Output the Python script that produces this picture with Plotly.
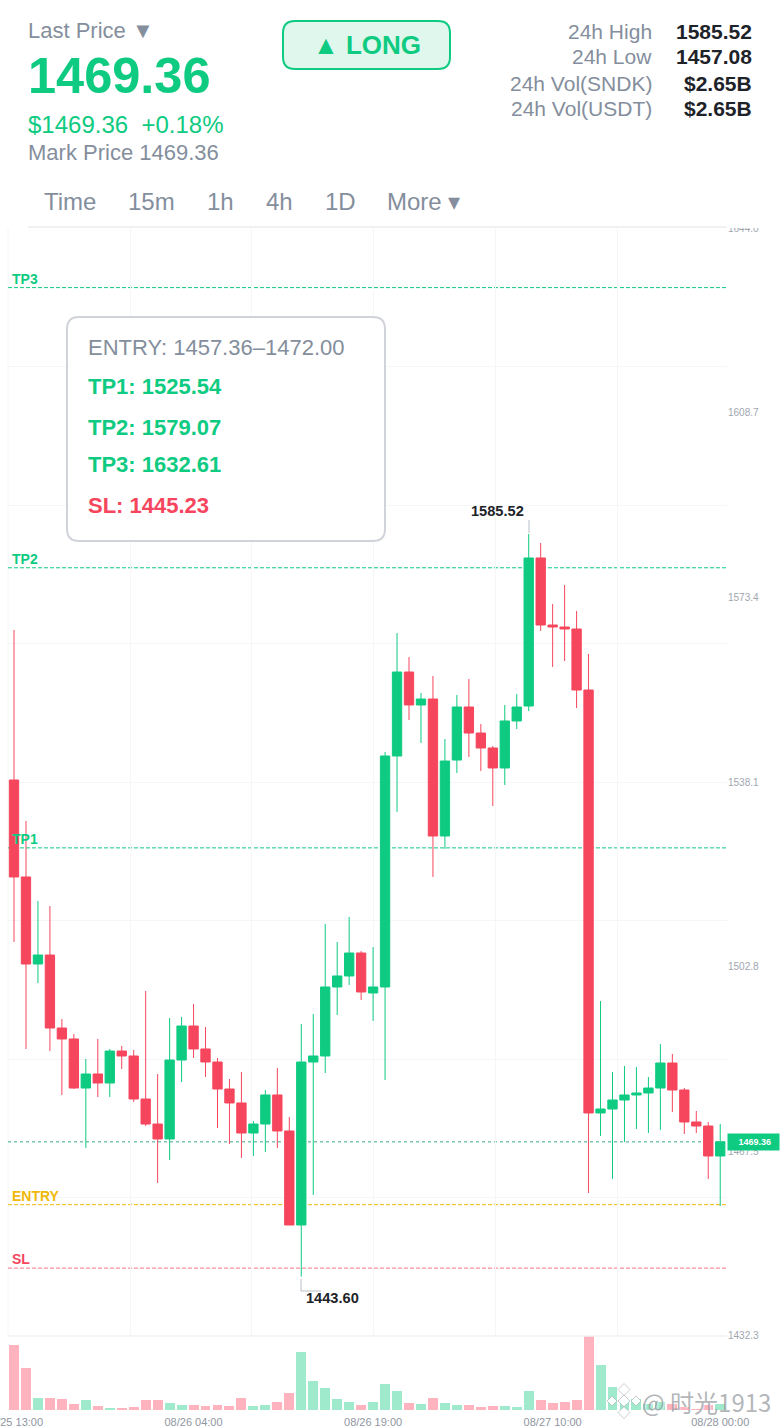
import plotly.graph_objects as go

W, H = 780, 1428
GREEN, RED, GOLD = "#0ECB81", "#F6465D", "#F0B90B"
GRAY, DARK = "#848E9C", "#1E2329"

# ---------- data ----------
HOURS = list(range(60))
OPEN = [1538.51,1519.98,1503.35,1505.07,1491.12,1489.02,1479.65,1482.33,1480.61,1486.72,
        1485.77,1477.55,1472.77,1469.91,1485.00,1491.50,1487.11,1484.62,1479.46,1476.79,
        1471.05,1472.77,1478.32,1471.44,1453.47,1484.62,1485.77,1498.96,1501.06,1505.45,
        1497.81,1498.96,1543.10,1559.15,1552.85,1553.99,1527.81,1542.33,1552.46,1547.49,
        1544.63,1540.81,1549.79,1552.65,1580.94,1568.13,1567.75,1567.37,1555.71,1474.88,
        1475.64,1477.36,1478.32,1478.70,1479.65,1484.43,1479.27,1473.16,1472.39,1466.66]
HIGH = [1567.18,1530.68,1515.39,1514.43,1492.84,1489.97,1485.20,1489.02,1487.11,1487.68,
        1486.92,1498.19,1482.33,1493.03,1493.22,1495.71,1491.31,1485.39,1481.37,1482.71,
        1473.35,1479.27,1483.48,1474.11,1491.88,1493.80,1510.99,1507.55,1512.33,1505.83,
        1506.60,1543.86,1566.60,1562.02,1555.14,1558.39,1546.35,1554.76,1557.81,1549.21,
        1545.01,1552.85,1554.95,1585.52,1583.80,1572.15,1575.78,1570.81,1562.59,1496.28,
        1482.71,1483.86,1483.67,1481.76,1488.06,1486.15,1479.65,1475.26,1473.16,1472.77]
LOW = [1507.55,1487.11,1499.72,1486.72,1478.32,1479.46,1468.19,1477.93,1477.93,1483.28,
       1476.98,1472.39,1461.50,1465.89,1480.80,1485.39,1481.76,1472.01,1468.95,1466.28,
       1466.66,1467.42,1468.19,1453.47,1443.60,1459.21,1482.52,1493.60,1499.34,1496.47,
       1492.46,1481.18,1532.40,1549.98,1545.58,1519.98,1525.33,1539.85,1542.91,1540.23,
       1533.54,1537.56,1548.26,1551.70,1566.99,1560.11,1561.25,1552.27,1459.59,1470.48,
       1462.26,1469.33,1471.82,1471.05,1471.63,1475.07,1470.86,1471.05,1462.26,1457.10]
CLOSE = [1519.98,1503.35,1505.07,1491.12,1489.02,1479.65,1482.33,1480.61,1486.72,1485.77,
         1477.55,1472.77,1469.91,1485.00,1491.50,1487.11,1484.62,1479.46,1476.79,1471.05,
         1472.77,1478.32,1471.44,1453.47,1484.62,1485.77,1498.96,1501.06,1505.45,1498.00,
         1498.96,1543.10,1559.15,1552.85,1553.99,1527.81,1542.14,1552.46,1547.49,1544.63,
         1540.81,1549.79,1552.46,1580.94,1568.13,1567.75,1567.37,1555.71,1474.88,1475.64,
         1477.36,1478.32,1478.70,1479.65,1484.43,1479.27,1473.16,1472.39,1466.66,1469.36]
VOLUME = [65,41.7,12.3,12,11,6.3,9.7,4,2,1.3,3,10.3,10,7.3,5,4.7,4.3,5,4,11.7,
          4,5,8,17,58.3,29,22,11,8,5,8.3,26,19,7,5.7,11.7,6.7,5,4.7,3,
          4,4,3.3,19,9.7,7.3,8.3,9.7,74,45,23,10,10.7,6,8,6,3,1,4.7,6.3]
TIME_POS = [0, 15, 30, 45, 59]
TIME_LABELS = ["08/25 13:00", "08/26 04:00", "08/26 19:00", "08/27 10:00", "08/28 00:00"]
PRICE_TICKS = [1644.0, 1608.7, 1573.4, 1538.1, 1502.8, 1467.5, 1432.3]
TP1, TP2, TP3, SL, ENTRY_LOW, ENTRY_HIGH = 1525.54, 1579.07, 1632.61, 1445.23, 1457.36, 1472.00
LAST = 1469.36
DAY_HIGH, DAY_LOW, CHART_LOW = 1585.52, 1457.08, 1443.60
TABS = ["Time", "15m", "1h", "4h", "1D", "More ▾"]
STAT_LABELS = ["24h High", "24h Low", "24h Vol(SNDK)", "24h Vol(USDT)"]
STAT_VALUES = ["1585.52", "1457.08", "$2.65B", "$2.65B"]
# --------------------------

def X(px): return px / W
def Y(py): return 1 - py / H
def xi(px): return (px - 14) / 11.97          # pixel to hour index, for grid only
YMIN, YMAX = 1432.26, 1644.0

anns, shapes = [], []

def text(px, py, s, size, color, bold=False, anchor="left", family="Liberation Sans", **kw):
    s2 = f"<b>{s}</b>" if bold else s
    anns.append(dict(xref="paper", yref="paper", x=X(px), y=Y(py), text=s2, showarrow=False,
                     xanchor=anchor, yanchor="middle", align=anchor,
                     font=dict(size=size, color=color, family=family, **kw),
                     borderpad=0, borderwidth=0))

def rrect(x0, y0, x1, y1, r, fill, stroke, lw):
    rx, ry = r / W, r / H
    a, b, c, d = X(x0), X(x1), Y(y0), Y(y1)
    p = (f"M{a+rx},{c} L{b-rx},{c} Q{b},{c} {b},{c-ry} L{b},{d+ry} Q{b},{d} {b-rx},{d} "
         f"L{a+rx},{d} Q{a},{d} {a},{d+ry} L{a},{c-ry} Q{a},{c} {a+rx},{c} Z")
    shapes.append(dict(type="path", path=p, xref="paper", yref="paper", fillcolor=fill,
                       line=dict(color=stroke, width=lw), layer="above"))

def seg(x0, y0, x1, y1, color, lw, layer="above"):
    shapes.append(dict(type="line", xref="paper", yref="paper", x0=X(x0), y0=Y(y0), x1=X(x1), y1=Y(y1),
                       line=dict(color=color, width=lw), layer=layer))

def level(price, color, label=None, dash="4px,2px", op=1.0):
    shapes.append(dict(type="line", xref="x domain", yref="y", x0=0, x1=1, y0=price, y1=price,
                       line=dict(color=color, width=1, dash=dash), opacity=op, layer="below"))
    if label:
        anns.append(dict(xref="paper", yref="y", x=X(10), y=price, yshift=9, text=f"<b>{label}</b>",
                         showarrow=False, xanchor="left", yanchor="middle",
                         font=dict(size=14, color=color, family="Liberation Sans")))

# header
text(28, 30.5, "Last Price ▼", 22, GRAY)
text(28, 75.5, f"{LAST:.2f}", 50.5, GREEN, bold=True)
text(28, 124, f"${LAST:.2f}&nbsp;&nbsp;+0.18%", 24, GREEN)
text(28, 153, f"Mark Price {LAST:.2f}", 22, GRAY)
rrect(283, 21, 450, 69, 12, "#E0F7EE", GREEN, 2)
text(366.5, 45, "▲ LONG", 26, GREEN, bold=True, anchor="center")
for i, (a, b) in enumerate(zip(STAT_LABELS, STAT_VALUES)):
    text(652, 31 + i * 26, a, 21, GRAY, anchor="right")
    text(752, 31 + i * 26, b, 21, DARK, bold=True, anchor="right")
for px, t in zip([44, 128, 207, 266, 325, 387], TABS):
    text(px, 202, t, 24, GRAY)

# plot frame lines
seg(28, 227, 780, 227, "#EAECEF", 1.5)
seg(8, 1336, 727, 1336, "#F0F1F3", 1.5)
seg(8, 228, 8, 1336, "#F5F6F7", 1, layer="below")
# clip the top tick label at the pane edge
shapes.append(dict(type="rect", xref="paper", yref="paper", x0=X(727), x1=X(780), y0=Y(228), y1=Y(218),
                   fillcolor="white", line=dict(width=0), layer="above"))

# levels
level(TP3, GREEN, "TP3")
level(TP2, GREEN, "TP2")
level(TP1, GREEN, "TP1")
level(ENTRY_LOW, GOLD, "ENTRY")
level(SL, RED, "SL", op=0.75)
level(LAST, "#3BA888", None, dash="3px,3px")
anns.append(dict(xref="paper", yref="y", x=X(727), y=LAST, xanchor="left", yanchor="middle",
                 text=f"<b>&nbsp;&nbsp;&nbsp;{LAST:.2f}&nbsp;&nbsp;</b>", showarrow=False,
                 bgcolor=GREEN, borderpad=3, font=dict(size=9, color="white", family="Liberation Sans")))

# info box
rrect(67, 317, 385, 541, 12, "white", "#D0D4DA", 2)
text(88, 347, f"ENTRY: {ENTRY_LOW:.2f}–{ENTRY_HIGH:.2f}", 22, GRAY)
text(88, 387, f"TP1: {TP1:.2f}", 22, GREEN, bold=True)
text(88, 427, f"TP2: {TP2:.2f}", 22, GREEN, bold=True)
text(88, 465, f"TP3: {TP3:.2f}", 22, GREEN, bold=True)
text(88, 505, f"SL: {SL:.2f}", 22, RED, bold=True)

# high/low callouts
seg(529, 520, 529, 533, "#B7BDC6", 1)
text(497.5, 511, f"{DAY_HIGH:.2f}", 14.6, DARK, bold=True, anchor="center")
seg(301, 1279, 301, 1291, "#B7BDC6", 1)
seg(301, 1291, 321, 1291, "#B7BDC6", 1)
text(332, 1298, f"{CHART_LOW:.2f}", 14.6, DARK, bold=True, anchor="center")

# watermark
text(642, 1401, "@ 时光1913", 24, "rgba(130,134,140,0.62)", family="Noto Sans CJK SC",
     shadow="1px 1px 1px white")
for cx, cy, s in [(624, 1389.5, 6), (624, 1412.5, 6), (612, 1401, 5), (636, 1401, 5), (624, 1401, 6)]:
    shapes.append(dict(type="path", xref="paper", yref="paper", layer="above",
                       path=f"M{X(cx-s)},{Y(cy)} L{X(cx)},{Y(cy-s)} L{X(cx+s)},{Y(cy)} L{X(cx)},{Y(cy+s)} Z",
                       fillcolor="rgba(255,255,255,0.92)", line=dict(color="rgba(150,155,160,0.5)", width=1)))

candle = go.Candlestick(
    x=HOURS, open=OPEN, high=HIGH, low=LOW, close=CLOSE, xaxis="x", yaxis="y",
    whiskerwidth=0, hoverinfo="skip", showlegend=False,
    increasing=dict(line=dict(color=GREEN, width=1), fillcolor=GREEN),
    decreasing=dict(line=dict(color=RED, width=1), fillcolor=RED),
)
vol_colors = ["#9FEACD" if c >= o else "#FFB3BE" for o, c in zip(OPEN, CLOSE)]
volume = go.Bar(x=HOURS, y=VOLUME, xaxis="x2", yaxis="y2", marker=dict(color=vol_colors, line=dict(width=0)),
                width=0.83, hoverinfo="skip", showlegend=False)

fig = go.Figure([candle, volume])
xrange = [xi(8), xi(727)]
grid = "#F5F6F7"
fig.update_layout(
    width=W, height=H, margin=dict(l=0, r=0, t=0, b=0, autoexpand=False), paper_bgcolor="white", plot_bgcolor="white",
    showlegend=False, annotations=anns, shapes=shapes, dragmode=False, bargap=0,
    boxgap=0.22, boxgroupgap=0,
    font=dict(family="Liberation Sans"),
    xaxis=dict(domain=[X(8), X(727)], range=xrange, anchor="y", rangeslider=dict(visible=False),
               showticklabels=False, showgrid=False, zeroline=False, ticks="",
               minor=dict(tickmode="array", tickvals=[xi(p) for p in (130, 251.5, 373, 495, 617)],
                          showgrid=True, gridcolor=grid, gridwidth=1, ticks="")),
    yaxis=dict(domain=[Y(1336), Y(228)], range=[YMIN, YMAX], anchor="x", side="right", zeroline=False,
               showgrid=False, tickmode="array", tickvals=PRICE_TICKS, ticktext=[f"{v:.1f}" for v in PRICE_TICKS],
               ticks="", ticklabeloverflow="allow",
               tickfont=dict(size=10, color="#A0A6AF"),
               minor=dict(tickmode="array", tickvals=[YMAX - k * (YMAX - YMIN) / 8 for k in range(9)],
                          showgrid=True, gridcolor=grid, gridwidth=1, ticks="")),
    xaxis2=dict(domain=[X(8), X(727)], range=xrange, anchor="y2", showgrid=False, zeroline=False,
                tickmode="array", tickvals=TIME_POS, ticktext=TIME_LABELS, ticks="", ticklabeloverflow="allow",
                ticklabelstandoff=4, tickfont=dict(size=11, color="#8F96A1")),
    yaxis2=dict(domain=[Y(1410), Y(1336)], range=[0, 74], anchor="x2", showticklabels=False,
                showgrid=False, zeroline=False, ticks=""),
)
fig.write_html("out.html", config=dict(displayModeBar=False, responsive=False),
               post_script="document.body.style.margin='0';document.documentElement.style.overflow='hidden';")
